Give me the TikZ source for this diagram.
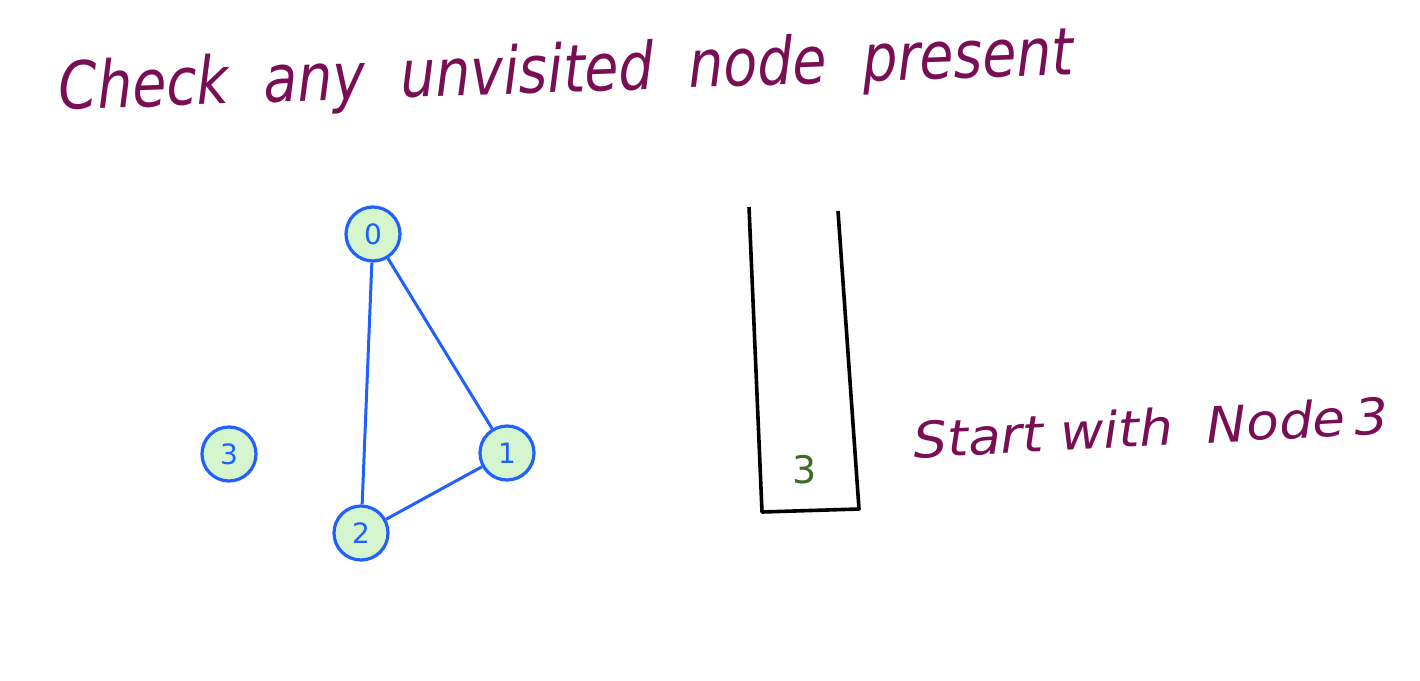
\documentclass[tikz,border=0pt]{standalone}
\usepackage{fontspec}
\setmainfont{DejaVu Sans}
\usepackage{graphicx}
\definecolor{ink}{HTML}{7A0E55}
\definecolor{nodeblue}{HTML}{1F60FF}
\definecolor{nodefill}{HTML}{D4F5CD}
\definecolor{stackgreen}{HTML}{3D6B25}
\tikzset{
  gnode/.style={circle, draw=nodeblue, fill=nodefill, line width=3.2pt, minimum size=54pt, inner sep=0pt,
    text=nodeblue, font=\fontsize{28}{28}\selectfont},
  gedge/.style={draw=nodeblue, line width=3pt},
  stackline/.style={draw=black, line width=3.6pt},
  handtext/.style={text=ink, inner sep=0pt}
}
\begin{document}
\begin{tikzpicture}[x=1pt,y=-1pt]
\useasboundingbox[fill=white] (0,0) rectangle (1420,680);
% title
\node[handtext, anchor=base, rotate=2] (title) at (567,92)
  {\resizebox{1015pt}{50pt}{\itshape Check\ \ any\ \ unvisited\ \ node\ \ present}};
% graph
\node[gnode] (n0) at (373,234) {0};
\node[gnode] (n1) at (507,453) {1};
\node[gnode] (n2) at (361,533) {2};
\node[gnode] (n3) at (229,454) {3};
\draw[gedge] (n0) -- (n2);
\draw[gedge] (n0) -- (n1);
\draw[gedge] (n1) -- (n2);
% stack
\coordinate (lt) at (749,207);
\coordinate (lb) at (762,512);
\coordinate (rb) at (859,509);
\coordinate (rt) at (838,211);
\draw[stackline, line join=round] (lt) -- (lb) -- (rb) -- (rt);
\node[text=stackgreen, font=\fontsize{38}{38}\selectfont] (s3) at (805,470) {3};
% side note
\node[handtext, anchor=base, rotate=3] (note) at (1152,446)
  {\resizebox{475pt}{38pt}{\itshape Start\ with\ \ Node\,3}};
\end{tikzpicture}
\end{document}
